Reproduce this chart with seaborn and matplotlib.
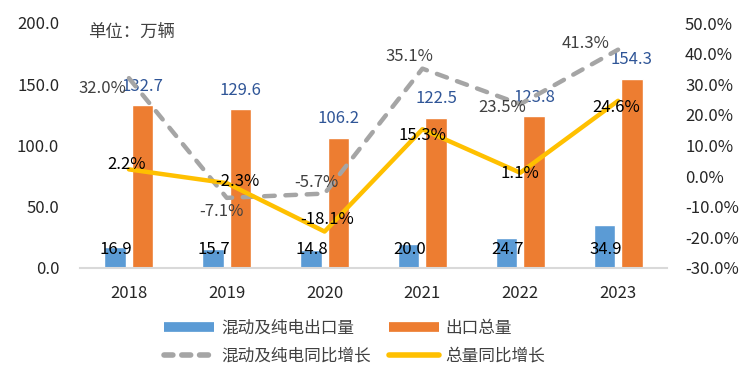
import numpy as np
import pandas as pd
import matplotlib
matplotlib.use("Agg")
import matplotlib.pyplot as plt
import seaborn as sns
from matplotlib.lines import Line2D

# -------------------------------
# Data
# -------------------------------
years = ["2018", "2019", "2020", "2021", "2022", "2023"]
nev_export = [16.9, 15.7, 14.8, 20.0, 24.7, 34.9]          # 混动及纯电出口量
total_export = [132.7, 129.6, 106.2, 122.5, 123.8, 154.3]  # 出口总量
nev_yoy = [32.0, -7.1, -5.7, 35.1, 23.5, 41.3]             # 混动及纯电同比增长 (%)
total_yoy = [2.2, -2.3, -18.1, 15.3, 1.1, 24.6]            # 总量同比增长 (%)

left_ticks = [0, 50, 100, 150, 200]
right_ticks = [-30, -20, -10, 0, 10, 20, 30, 40, 50]

c_blue, c_orange = "#5B9BD5", "#ED7D31"
c_gray, c_yellow = "#A5A5A5", "#FFC000"

sns.set_theme(style="white")
plt.rcParams["font.family"] = ["Noto Sans CJK SC", "DejaVu Sans"]

bars = pd.DataFrame({
    "year": years * 2,
    "value": nev_export + total_export,
    "series": ["混动及纯电出口量"] * 6 + ["出口总量"] * 6,
})

fig = plt.figure(figsize=(7.47, 3.79), dpi=100)
ax = fig.add_axes([80 / 747, 1 - 268 / 379, 587 / 747, 245 / 379])

sns.barplot(data=bars, x="year", y="value", hue="series",
            palette=[c_blue, c_orange], width=0.56, gap=0.214,
            legend=False, ax=ax, saturation=1)
ax.set_ylim(0, 200)
ax.set_xlim(-0.5, 5.5)
ax.set_yticks(left_ticks)
ax.set_yticklabels([f"{v:.1f}" for v in left_ticks])
ax.set_xlabel("")
ax.set_ylabel("")
for s in ["top", "right", "left"]:
    ax.spines[s].set_visible(False)
ax.spines["bottom"].set_color("#D9D9D9")
ax.spines["bottom"].set_linewidth(1.5)
ax.tick_params(axis="x", length=0, pad=12, labelsize=12, labelcolor="#262626")
ax.tick_params(axis="y", length=0, pad=15, labelsize=12, labelcolor="#262626")

# bar labels
for p, v in zip(ax.containers[0], nev_export):
    ax.annotate(f"{v:.1f}", (p.get_x() + p.get_width() / 2, 0),
                xytext=(1, 18), textcoords="offset pixels",
                ha="center", va="center", fontsize=12, color="black")
for p, v in zip(ax.containers[1], total_export):
    ax.annotate(f"{v:.1f}", (p.get_x() + p.get_width() / 2, p.get_height()),
                xytext=(0, 19), textcoords="offset pixels",
                ha="center", va="center", fontsize=12, color="#2F5597")

# lines on secondary axis
ax2 = ax.twinx()
xpos = np.arange(len(years))
sns.lineplot(x=xpos, y=nev_yoy, ax=ax2, color=c_gray, lw=3.2,
             linestyle=(0, (2.4, 2.4)), dash_capstyle="round")
sns.lineplot(x=xpos, y=total_yoy, ax=ax2, color=c_yellow, lw=3.2)
ax2.set_ylim(-30, 50)
ax2.set_xlim(-0.5, 5.5)
ax2.set_yticks(right_ticks)
ax2.set_yticklabels([f"{v:.1f}%" for v in right_ticks])
ax2.tick_params(axis="y", length=0, pad=13, labelsize=12, labelcolor="#262626")
for s in ax2.spines.values():
    s.set_visible(False)

gray_off = [(-26, -10), (-5, -14), (-8, 11), (-13, 12), (-18, -3), (-33, 6)]
yellow_off = [(-2, 5), (11, 2), (3, 12), (0, -6), (0, -1), (-2, -7)]
for i, v in enumerate(nev_yoy):
    ax2.annotate(f"{v:.1f}%", (xpos[i], v), xytext=gray_off[i],
                 textcoords="offset pixels", ha="center", va="center",
                 fontsize=12, color="#404040")
for i, v in enumerate(total_yoy):
    ax2.annotate(f"{v:.1f}%", (xpos[i], v), xytext=yellow_off[i],
                 textcoords="offset pixels", ha="center", va="center",
                 fontsize=12, color="black")

fig.text(88 / 747, 1 - 32 / 379, "单位：万辆", fontsize=12.5,
         color="#404040", va="center", ha="left")

handles = [
    Line2D([], [], color=c_blue, lw=7, solid_capstyle="butt"),
    Line2D([], [], color=c_gray, lw=4, linestyle=(0, (1.6, 1.6)), dash_capstyle="round"),
    Line2D([], [], color=c_orange, lw=7, solid_capstyle="butt"),
    Line2D([], [], color=c_yellow, lw=4, solid_capstyle="round"),
]
labels = ["混动及纯电出口量", "混动及纯电同比增长", "出口总量", "总量同比增长"]
fig.legend(handles, labels, loc="center", bbox_to_anchor=(0.475, 1 - 342 / 379),
           ncol=2, frameon=False, fontsize=12, handlelength=3.0,
           handletextpad=0.4, columnspacing=1.1, labelspacing=0.65,
           labelcolor="#404040")

fig.savefig("out.png", dpi=100)
